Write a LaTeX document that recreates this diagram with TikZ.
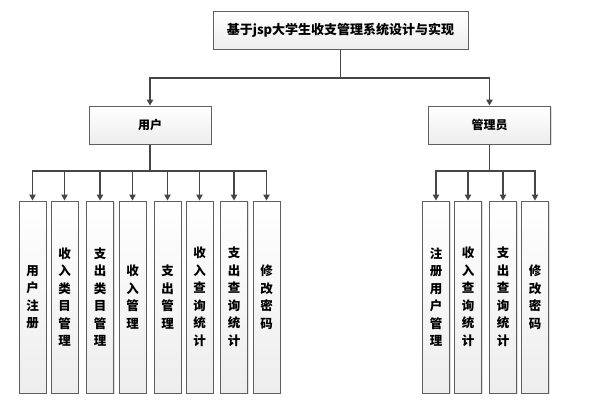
\documentclass[tikz,border=0pt]{standalone}
\usepackage{fontspec}
\newfontfamily\cjk{Noto Sans CJK SC}
\usetikzlibrary{arrows.meta,shadows}
\definecolor{boxline}{RGB}{95,95,95}
\definecolor{wire}{RGB}{70,70,70}
\begin{document}
\begin{tikzpicture}[x=1pt,y=-1pt,
box/.style={
% The shape:
rectangle,
draw=boxline,
line width=1pt,
top color=white,
bottom color=gray!14,
drop shadow={shadow xshift=1.2pt,shadow yshift=-1.2pt,opacity=0.25},
font=\cjk\bfseries\fontsize{12}{14}\selectfont
},
head/.style={box,minimum width=122pt,minimum height=38pt},
item/.style={box,minimum width=27pt,minimum height=192pt,align=center,
font=\cjk\bfseries\fontsize{12.5}{17.5}\selectfont},
coord/.style={coordinate},
wire/.style={draw=wire,line width=1.1pt},
arrow/.style={wire,-{Triangle[length=6pt,width=6.5pt]}}
]
\useasboundingbox (0,0) rectangle (597,408);
% Top level
\node (title) [box,minimum width=255pt,minimum height=38pt,font=\cjk\bfseries\fontsize{13}{15}\selectfont] at (340.5,30) {基于jsp大学生收支管理系统设计与实现};
\node (user) [head] at (150,125) {用户};
\node (admin) [head] at (489.5,125) {管理员};
\node (split) [coord] at (340.5,78) {};
\draw [wire] (title) -- (split);
\draw [arrow] (split) -| (user);
\draw [arrow] (split) -| (admin);
% User functions
\foreach \n/\x/\t in {u1/32.5/{用\\户\\注\\册},u2/64.5/{收\\入\\类\\目\\管\\理},
  u3/100/{支\\出\\类\\目\\管\\理},u4/132.5/{收\\入\\管\\理},u5/167.5/{支\\出\\管\\理},
  u6/199.5/{收\\入\\查\\询\\统\\计},u7/234/{支\\出\\查\\询\\统\\计},u8/266.5/{修\\改\\密\\码}}
  \node (\n) [item] at (\x,297) {\t};
\node (usplit) [coord] at (150,171) {};
\draw [wire] (user) -- (usplit);
\foreach \i in {1,...,8}
  \draw [arrow] (usplit) -| (u\i);
% Admin functions
\foreach \n/\x/\t in {a1/436/{注\\册\\用\\户\\管\\理},a2/468/{收\\入\\查\\询\\统\\计},
  a3/503/{支\\出\\查\\询\\统\\计},a4/535/{修\\改\\密\\码}}
  \node (\n) [item] at (\x,297) {\t};
\node (asplit) [coord] at (489.5,171) {};
\draw [wire] (admin) -- (asplit);
\foreach \i in {1,...,4}
  \draw [arrow] (asplit) -| (a\i);
\end{tikzpicture}
\end{document}
